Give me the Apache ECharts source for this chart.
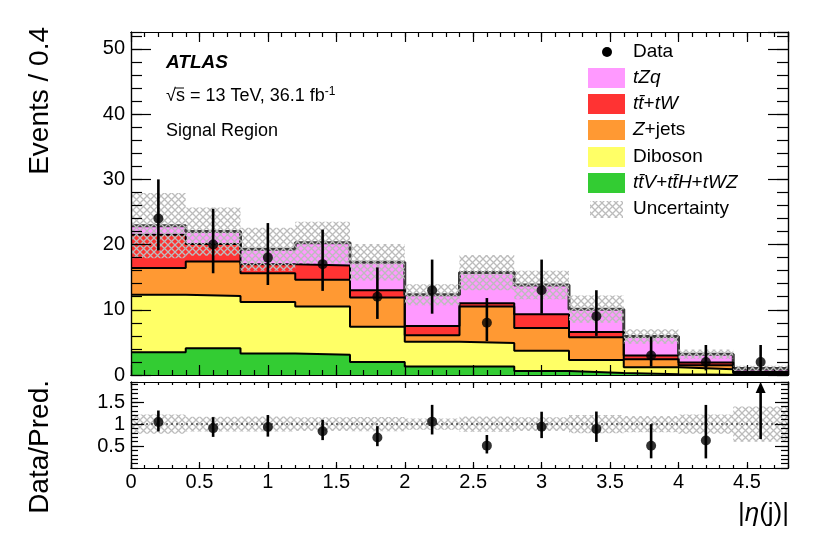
<!DOCTYPE html>
<html>
<head>
<meta charset="utf-8">
<script src="https://cdn.jsdelivr.net/npm/echarts@6/dist/echarts.min.js"></script>
<style>
html, body { margin: 0; padding: 0; background: #fff; }
#chart { width: 830px; height: 533px; }
</style>
</head>
<body>
<div id="chart"></div>
<script>
// bins of |eta(j)|, width 0.4
var binLo = [0, 0.4, 0.8, 1.2, 1.6, 2.0, 2.4, 2.8, 3.2, 3.6, 4.0, 4.4];
var binWidth = 0.4;

// predicted yields per process
var ttvValues     = [3.5, 4.1, 3.3, 3.1, 2.0, 1.3, 1.3, 0.6, 0.3, 0.1, 0.05, 0.02];
var dibosonValues = [8.8, 8.0, 7.9, 7.4, 5.4, 3.8, 3.6, 3.1, 2.0, 1.1, 0.85, 0.25];
var zjetsValues   = [4.1, 5.3, 4.4, 4.1, 4.5, 1.0, 5.6, 3.5, 3.5, 1.2, 0.6, 0.15];
var ttbarValues   = [5.1, 2.7, 1.4, 2.2, 1.1, 1.4, 0.5, 2.1, 0.8, 0.6, 0.4, 0.13];
var tzqValues     = [1.4, 1.9, 2.3, 3.5, 4.3, 4.8, 4.7, 4.5, 3.5, 2.9, 1.3, 0.45];
var uncValues     = [5.0, 3.7, 3.3, 3.2, 2.8, 1.6, 2.7, 2.2, 2.1, 1.1, 0.7, 0.4];

// data with error bar ends
var dataValues = [24, 20, 18, 17, 12, 13, 8, 13, 9, 3, 2, 2];
var dataLow    = [19.1, 15.6, 13.8, 12.9, 8.6, 9.4, 5.2, 9.4, 6.0, 1.3, 0.7, 0.66];
var dataHigh   = [30.0, 25.5, 23.3, 22.3, 16.5, 17.7, 11.8, 17.7, 13.0, 5.9, 4.6, 4.6];

var xMax = 4.8, yMax = 52.6, rMax = 1.96;
var font = 'Liberation Sans';

function cumulate(list) {
  var out = [];
  for (var i = 0; i < binLo.length; i++) {
    var s = 0;
    for (var k = 0; k < list.length; k++) s += list[k][i];
    out.push(s);
  }
  return out;
}
var cumTtv = cumulate([ttvValues]);
var cumDib = cumulate([ttvValues, dibosonValues]);
var cumZj = cumulate([ttvValues, dibosonValues, zjetsValues]);
var cumTt = cumulate([ttvValues, dibosonValues, zjetsValues, ttbarValues]);
var total = cumulate([ttvValues, dibosonValues, zjetsValues, ttbarValues, tzqValues]);

function stepData(vals) {
  var d = binLo.map(function (x, i) { return [x, vals[i]]; });
  d.push([xMax, vals[vals.length - 1]]);
  return d;
}

// grey cross hatch for the uncertainty band
var hatch = document.createElement('canvas');
hatch.width = 7; hatch.height = 7;
var hc = hatch.getContext('2d');
hc.strokeStyle = '#bcbcbc';
hc.lineWidth = 1.3;
hc.beginPath();
hc.moveTo(0, 0); hc.lineTo(7, 7);
hc.moveTo(7, 0); hc.lineTo(0, 7);
hc.stroke();
var hatchFill = { image: hatch, repeat: 'repeat' };

function stackSeries(name, vals, color, lineColor, lineWidth) {
  return {
    name: name, type: 'line', step: 'end', xAxisIndex: 0, yAxisIndex: 0, z: 2,
    data: stepData(vals), symbol: 'none',
    lineStyle: { color: lineColor, width: lineWidth },
    areaStyle: { color: color, opacity: 1 },
    itemStyle: { color: color }
  };
}

function xAx(grid, pos, interval, len, labels) {
  return {
    type: 'value', gridIndex: grid, position: pos, min: 0, max: xMax, interval: interval, z: 8,
    axisLine: { show: true, onZero: false, lineStyle: { color: '#000', width: 1.2 } },
    axisTick: { show: true, inside: true, length: len, lineStyle: { color: '#000', width: 1.2 } },
    axisLabel: { show: labels, showMaxLabel: false, margin: 4, color: '#000', fontFamily: font, fontSize: 20 },
    splitLine: { show: false }
  };
}
function yAx(grid, pos, max, interval, len, labels, hideMin) {
  return {
    type: 'value', gridIndex: grid, position: pos, min: 0, max: max, interval: interval, z: 8,
    axisLine: { show: true, onZero: false, lineStyle: { color: '#000', width: 1.2 } },
    axisTick: { show: true, inside: true, length: len, lineStyle: { color: '#000', width: 1.2 } },
    axisLabel: { show: labels, showMaxLabel: false, showMinLabel: !hideMin, margin: 6, color: '#000', fontFamily: font, fontSize: 20 },
    splitLine: { show: false }
  };
}

var ratioVals = [], ratioLo = [], ratioHi = [], relUnc = [];
for (var i = 0; i < binLo.length; i++) {
  ratioVals.push(dataValues[i] / total[i]);
  ratioLo.push(dataLow[i] / total[i]);
  ratioHi.push(dataHigh[i] / total[i]);
  relUnc.push(uncValues[i] / total[i]);
}

var chart = echarts.init(document.getElementById('chart'), null, { renderer: 'canvas' });

var option = {
  animation: false,
  backgroundColor: '#fff',
  grid: [
    { left: 131, width: 657, top: 32, height: 343, containLabel: false, outerBoundsMode: 'none' },
    { left: 131, width: 657, top: 382, height: 86, containLabel: false, outerBoundsMode: 'none' }
  ],
  xAxis: [
    xAx(0, 'bottom', 0.5, 10, false), xAx(0, 'bottom', 0.1, 5, false),
    xAx(0, 'top', 0.5, 10, false), xAx(0, 'top', 0.1, 5, false),
    xAx(1, 'bottom', 0.5, 6, true), xAx(1, 'bottom', 0.1, 3, false),
    xAx(1, 'top', 0.5, 6, false), xAx(1, 'top', 0.1, 3, false)
  ],
  yAxis: [
    yAx(0, 'left', yMax, 10, 20, true, false), yAx(0, 'left', yMax, 2, 11, false, false),
    yAx(0, 'right', yMax, 10, 20, false, false), yAx(0, 'right', yMax, 2, 11, false, false),
    yAx(1, 'left', rMax, 0.5, 13, true, true), yAx(1, 'left', rMax, 0.1, 7, false, true),
    yAx(1, 'right', rMax, 0.5, 13, false, true), yAx(1, 'right', rMax, 0.1, 7, false, true)
  ],
  series: [
    stackSeries('tZq', total, '#ff99ff', '#3c3c3c', 3),
    stackSeries('tt+tW', cumTt, '#ff3333', '#000', 2),
    stackSeries('Z+jets', cumZj, '#ff9933', '#000', 2),
    stackSeries('Diboson', cumDib, '#ffff66', '#000', 2),
    stackSeries('ttV+ttH+tWZ', cumTtv, '#33cc33', '#000', 2),
    {
      name: 'Uncertainty', type: 'custom', xAxisIndex: 0, yAxisIndex: 0, z: 4,
      data: binLo.map(function (x, i) { return [x, total[i], uncValues[i]]; }),
      renderItem: function (params, api) {
        var lo = api.value(0), t = api.value(1), e = api.value(2);
        var a = api.coord([lo, t + e]), b = api.coord([lo + binWidth, Math.max(t - e, 0)]);
        return { type: 'rect', shape: { x: a[0], y: a[1], width: b[0] - a[0], height: b[1] - a[1] }, style: { fill: hatchFill } };
      }
    },
    {
      name: 'DataErr', type: 'custom', xAxisIndex: 0, yAxisIndex: 0, z: 5,
      data: binLo.map(function (x, i) { return [x + binWidth / 2, dataLow[i], dataHigh[i]]; }),
      renderItem: function (params, api) {
        var a = api.coord([api.value(0), api.value(1)]), b = api.coord([api.value(0), api.value(2)]);
        return { type: 'line', shape: { x1: a[0], y1: a[1], x2: b[0], y2: b[1] }, style: { stroke: '#000', lineWidth: 2.6 } };
      }
    },
    {
      name: 'Data', type: 'scatter', xAxisIndex: 0, yAxisIndex: 0, symbolSize: 10, z: 6,
      itemStyle: { color: '#000' },
      data: binLo.map(function (x, i) { return [x + binWidth / 2, dataValues[i]]; })
    },
    // ratio panel
    {
      name: 'RatioUnc', type: 'custom', xAxisIndex: 4, yAxisIndex: 4, z: 3,
      data: binLo.map(function (x, i) { return [x, relUnc[i]]; }),
      renderItem: function (params, api) {
        var lo = api.value(0), e = api.value(1);
        var a = api.coord([lo, 1 + e]), b = api.coord([lo + binWidth, 1 - e]);
        return { type: 'rect', shape: { x: a[0], y: a[1], width: b[0] - a[0], height: b[1] - a[1] }, style: { fill: hatchFill } };
      }
    },
    {
      name: 'One', type: 'line', xAxisIndex: 4, yAxisIndex: 4, symbol: 'none', z: 4,
      data: [[0, 1], [xMax, 1]],
      lineStyle: { color: '#444', width: 1.5, type: [2, 3] }
    },
    {
      name: 'RatioErr', type: 'custom', xAxisIndex: 4, yAxisIndex: 4, z: 5,
      data: binLo.map(function (x, i) { return [x + binWidth / 2, ratioLo[i], ratioHi[i], ratioVals[i]]; }),
      renderItem: function (params, api) {
        var x = api.value(0), lo = api.value(1), hi = api.value(2), r = api.value(3);
        if (r > rMax) {
          var s = api.coord([x, lo]), tip = api.coord([x, rMax]);
          return { type: 'group', children: [
            { type: 'line', shape: { x1: s[0], y1: s[1], x2: tip[0], y2: tip[1] + 8 }, style: { stroke: '#000', lineWidth: 2.6 } },
            { type: 'polygon', shape: { points: [[tip[0], tip[1]], [tip[0] - 5, tip[1] + 11], [tip[0] + 5, tip[1] + 11]] }, style: { fill: '#000' } }
          ] };
        }
        var a = api.coord([x, lo]), b = api.coord([x, Math.min(hi, rMax)]);
        return { type: 'line', shape: { x1: a[0], y1: a[1], x2: b[0], y2: b[1] }, style: { stroke: '#000', lineWidth: 2.6 } };
      }
    },
    {
      name: 'Ratio', type: 'scatter', xAxisIndex: 4, yAxisIndex: 4, symbolSize: 10, z: 6,
      itemStyle: { color: '#000' },
      data: binLo.map(function (x, i) { return [x + binWidth / 2, ratioVals[i]]; })
        .filter(function (d) { return d[1] <= rMax; })
    }
  ],
  graphic: [
    // top-left labels
    { type: 'text', x: 166, y: 63, style: { text: 'ATLAS', fontFamily: font, fontSize: 19, fontWeight: 'bold', fontStyle: 'italic', fill: '#000', verticalAlign: 'middle' } },
    { type: 'text', x: 166, y: 96, style: { text: '√s = 13 TeV, 36.1 fb{sup|-1}', fontFamily: font, fontSize: 18, fill: '#000', verticalAlign: 'middle',
        rich: { sup: { fontFamily: font, fontSize: 12, verticalAlign: 'top', padding: [0, 0, 8, 0] } } } },
    { type: 'line', shape: { x1: 175, y1: 88, x2: 184, y2: 88 }, style: { stroke: '#000', lineWidth: 1 } },
    { type: 'text', x: 166, y: 131, style: { text: 'Signal Region', fontFamily: font, fontSize: 18, fill: '#000', verticalAlign: 'middle' } },
    // axis titles
    { type: 'text', x: 40, y: 27, rotation: Math.PI / 2, style: { text: 'Events / 0.4', fontFamily: font, fontSize: 28, fill: '#000', align: 'right', verticalAlign: 'middle' } },
    { type: 'text', x: 40, y: 380, rotation: Math.PI / 2, style: { text: 'Data/Pred.', fontFamily: font, fontSize: 28, fill: '#000', align: 'right', verticalAlign: 'middle' } },
    { type: 'text', x: 789, y: 514, style: { text: '|{it|η}(j)|', fontFamily: font, fontSize: 26, fill: '#000', align: 'right', verticalAlign: 'middle',
        rich: { it: { fontFamily: font, fontSize: 26, fontStyle: 'italic' } } } },
    // legend
    { type: 'circle', shape: { cx: 607, cy: 52, r: 5 }, style: { fill: '#000' } },
    { type: 'text', x: 633, y: 52, style: { text: 'Data', fontFamily: font, fontSize: 19, fill: '#000', verticalAlign: 'middle' } },
    { type: 'rect', shape: { x: 588, y: 68, width: 37, height: 20 }, style: { fill: '#ff99ff' } },
    { type: 'text', x: 633, y: 78, style: { text: '{it|tZq}', fontFamily: font, fontSize: 19, fill: '#000', verticalAlign: 'middle', rich: { it: { fontFamily: font, fontSize: 19, fontStyle: 'italic' } } } },
    { type: 'rect', shape: { x: 588, y: 94, width: 37, height: 20 }, style: { fill: '#ff3333' } },
    { type: 'text', x: 633, y: 104, style: { text: '{it|tt\u0304}+{it|tW}', fontFamily: font, fontSize: 19, fill: '#000', verticalAlign: 'middle', rich: { it: { fontFamily: font, fontSize: 19, fontStyle: 'italic' } } } },
    { type: 'rect', shape: { x: 588, y: 120, width: 37, height: 20 }, style: { fill: '#ff9933' } },
    { type: 'text', x: 633, y: 130, style: { text: '{it|Z}+jets', fontFamily: font, fontSize: 19, fill: '#000', verticalAlign: 'middle', rich: { it: { fontFamily: font, fontSize: 19, fontStyle: 'italic' } } } },
    { type: 'rect', shape: { x: 588, y: 147, width: 37, height: 20 }, style: { fill: '#ffff66' } },
    { type: 'text', x: 633, y: 157, style: { text: 'Diboson', fontFamily: font, fontSize: 19, fill: '#000', verticalAlign: 'middle' } },
    { type: 'rect', shape: { x: 588, y: 173, width: 37, height: 20 }, style: { fill: '#33cc33' } },
    { type: 'text', x: 633, y: 183, style: { text: '{it|tt\u0304V}+{it|tt\u0304H}+{it|tWZ}', fontFamily: font, fontSize: 19, fill: '#000', verticalAlign: 'middle', rich: { it: { fontFamily: font, fontSize: 19, fontStyle: 'italic' } } } },
    { type: 'rect', shape: { x: 590, y: 201, width: 33, height: 17 }, style: { fill: hatchFill } },
    { type: 'text', x: 633, y: 209, style: { text: 'Uncertainty', fontFamily: font, fontSize: 19, fill: '#000', verticalAlign: 'middle' } }
  ]
};

chart.setOption(option);
</script>
</body>
</html>
